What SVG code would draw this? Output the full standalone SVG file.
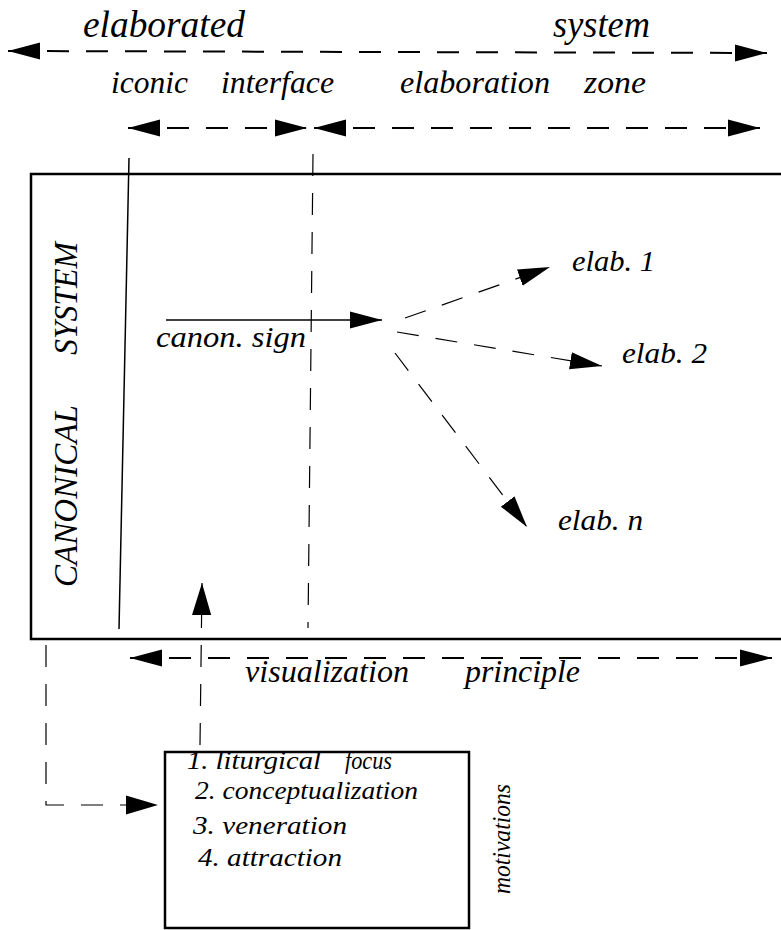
<svg xmlns="http://www.w3.org/2000/svg" width="781" height="930" viewBox="0 0 781 930">
<style>
text{font-family:"Liberation Serif","Times New Roman",serif;font-style:italic;fill:#000}
.big{font-size:38px}
.mid{font-size:31px}
.rot{font-size:34px}
.lab{font-size:29px}
.item{font-size:25px}
.thick{stroke:#000;stroke-width:2;fill:none;stroke-dasharray:22 17}
.thin{stroke:#000;stroke-width:1.2;fill:none;stroke-dasharray:22 17}
.solid{stroke:#000;stroke-width:1.5;fill:none}
.box{stroke:#000;stroke-width:2.5;fill:none}
</style>
<defs>
<marker id="ah" markerUnits="userSpaceOnUse" markerWidth="32" markerHeight="20" viewBox="0 0 30 16" refX="30" refY="8" orient="auto-start-reverse">
<path d="M0,0 L30,8 L0,16 Z" fill="#000"/>
</marker>
<marker id="ahs" markerUnits="userSpaceOnUse" markerWidth="32" markerHeight="20" viewBox="0 0 30 18" refX="30" refY="9" orient="auto-start-reverse">
<path d="M0,0 L30,9 L0,18 Z" fill="#000"/>
</marker>
</defs>

<g id="labels-top">
<text class="big" x="83" y="37" textLength="162" lengthAdjust="spacingAndGlyphs">elaborated</text>
<text class="big" x="553" y="37" textLength="97" lengthAdjust="spacingAndGlyphs">system</text>
<text class="mid" x="111" y="93" textLength="77" lengthAdjust="spacingAndGlyphs">iconic</text>
<text class="mid" x="221" y="93" textLength="113" lengthAdjust="spacingAndGlyphs">interface</text>
<text class="mid" x="400" y="93" textLength="150" lengthAdjust="spacingAndGlyphs">elaboration</text>
<text class="mid" x="584" y="93" textLength="62" lengthAdjust="spacingAndGlyphs">zone</text>
</g>

<g id="canonical-system">
<rect class="box" x="31" y="174" width="760" height="465"/>
<text class="rot" transform="translate(77,355) rotate(-90)" textLength="113" lengthAdjust="spacingAndGlyphs">SYSTEM</text>
<text class="rot" transform="translate(77,587) rotate(-90)" textLength="182" lengthAdjust="spacingAndGlyphs">CANONICAL</text>
</g>

<g id="canon-sign">
<text class="lab" x="156" y="347" textLength="150" lengthAdjust="spacingAndGlyphs">canon. sign</text>
</g>

<g id="elab-1"><text class="lab" x="572" y="271" textLength="83" lengthAdjust="spacingAndGlyphs">elab. 1</text></g>
<g id="elab-2"><text class="lab" x="622" y="363" textLength="85" lengthAdjust="spacingAndGlyphs">elab. 2</text></g>
<g id="elab-n"><text class="lab" x="558" y="530" textLength="85" lengthAdjust="spacingAndGlyphs">elab. n</text></g>

<g id="visualization-principle">
<text class="mid" x="245" y="682" textLength="164" lengthAdjust="spacingAndGlyphs">visualization</text>
<text class="mid" x="465" y="682" textLength="115" lengthAdjust="spacingAndGlyphs">principle</text>
</g>

<g id="motivations">
<rect class="box" x="165" y="752" width="304" height="176" stroke-width="2"/>
<text class="item" x="187" y="769" textLength="134" lengthAdjust="spacingAndGlyphs">1. liturgical</text>
<text class="item" x="345" y="769" font-size="21" textLength="47" lengthAdjust="spacingAndGlyphs">focus</text>
<text class="item" x="195" y="799" textLength="223" lengthAdjust="spacingAndGlyphs">2. conceptualization</text>
<text class="item" x="193" y="834" textLength="154" lengthAdjust="spacingAndGlyphs">3. veneration</text>
<text class="item" x="198" y="866" textLength="144" lengthAdjust="spacingAndGlyphs">4. attraction</text>
<text class="item" transform="translate(510,894) rotate(-90)" font-size="22" textLength="110" lengthAdjust="spacingAndGlyphs">motivations</text>
</g>

<g id="connectors">
<path class="thick" d="M8,51 L767,53" marker-start="url(#ah)" marker-end="url(#ah)"/>
<path class="thick" d="M128,128 L307,128" marker-start="url(#ah)" marker-end="url(#ah)"/>
<path class="thick" d="M314,128 L760,128" marker-start="url(#ah)" marker-end="url(#ah)"/>
<path class="thick" d="M130,658 L772,658" marker-start="url(#ah)" marker-end="url(#ah)"/>
<path class="solid" d="M129,158 L119,629" stroke-width="1"/>
<path class="thin" d="M313,154 L308,628" stroke-dasharray="1 2 20 17"/>
<path class="solid" d="M166,320 L382,320" stroke-width="2" marker-end="url(#ah)"/>
<path class="thin" d="M405,318 L550,267" marker-end="url(#ah)"/>
<path class="thin" d="M397,332 L602,366" marker-end="url(#ah)"/>
<path class="thin" d="M395,353 L527,527" marker-end="url(#ah)"/>
<path class="thin" d="M200,745 L202,583" stroke-dasharray="22 17" marker-end="url(#ahs)"/>
<path class="thin" d="M46,645 L46,805 L158,805" marker-end="url(#ahs)"/>
</g>
</svg>
